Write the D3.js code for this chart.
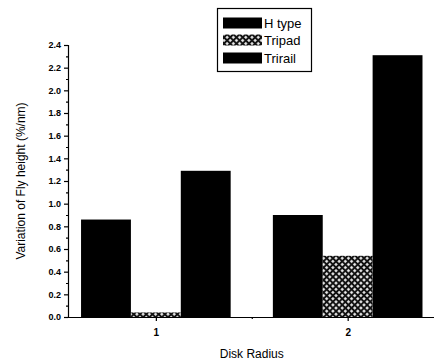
<!DOCTYPE html>
<html>
<head>
<meta charset="utf-8">
<script src="https://cdn.jsdelivr.net/npm/d3@7"></script>
<style>
  body { margin: 0; background: #fff; }
  text { font-family: Arial, "Liberation Sans", sans-serif; fill: #000; }
</style>
</head>
<body>
<div id="chart"></div>
<script>
// values
const radii = [1, 2];
const series = ['H type', 'Tripad', 'Trirail'];
const hType = [0.86, 0.90];
const tripad = [0.04, 0.54];
const trirail = [1.29, 2.31];
const yTicks = [0, 0.2, 0.4, 0.6, 0.8, 1.0, 1.2, 1.4, 1.6, 1.8, 2.0, 2.2, 2.4];

const width = 434, height = 363;
const margin = {left: 68, right: 0, top: 45, bottom: 46};

const svg = d3.select('#chart').append('svg').attr('width', width).attr('height', height);

const defs = svg.append('defs');
const pat = defs.append('pattern')
    .attr('id', 'hatch')
    .attr('patternUnits', 'userSpaceOnUse')
    .attr('width', 4.4).attr('height', 4.4)
    .attr('patternTransform', 'rotate(45)');
pat.append('rect').attr('width', 4.4).attr('height', 4.4).attr('fill', '#111');
pat.append('rect').attr('x', 1).attr('y', 1).attr('width', 2.4).attr('height', 2.4).attr('fill', '#f4f4f4');

const x = d3.scaleLinear().domain([0.542, 2.45]).range([margin.left, width - margin.right]);
const y = d3.scaleLinear().domain([0, 2.4]).range([height - margin.bottom, margin.top]);

const barW = x(1.26) - x(1);
const fills = ['#000', 'url(#hatch)', '#000'];
const data = [hType, tripad, trirail];

const bars = svg.append('g');
data.forEach((vals, s) => {
    bars.selectAll('rect.s' + s)
        .data(vals)
        .enter().append('rect')
        .attr('class', 's' + s)
        .attr('x', (d, i) => x(radii[i]) + (s - 1.5) * barW)
        .attr('y', d => y(d))
        .attr('width', barW)
        .attr('height', d => y(0) - y(d))
        .attr('fill', fills[s]);
});

// y axis with minor ticks
const yAxis = svg.append('g').attr('transform', 'translate(' + margin.left + ',0)');
yAxis.call(d3.axisLeft(y).tickValues(yTicks).tickSize(4).tickPadding(3).tickFormat(d3.format('.1f')));
yAxis.append('g').call(d3.axisLeft(y).tickValues(d3.range(0.1, 2.4, 0.2)).tickSize(2).tickFormat(''))
    .select('.domain').remove();
yAxis.selectAll('text').style('font-size', '9px').style('font-weight', 'bold');

// x axis
const xAxis = svg.append('g').attr('transform', 'translate(0,' + y(0) + ')');
xAxis.call(d3.axisBottom(x).tickValues(radii).tickSize(4).tickPadding(8).tickFormat(d3.format('d')).tickSizeOuter(0));
xAxis.append('g').call(d3.axisBottom(x).tickValues([1.5]).tickSize(2).tickFormat(''))
    .select('.domain').remove();
xAxis.selectAll('text').style('font-size', '10px').style('font-weight', 'bold');
svg.selectAll('.domain, .tick line').attr('stroke', '#000').attr('stroke-width', 1.2);

svg.append('text')
    .attr('x', (x(1) + x(2)) / 2).attr('y', 358)
    .attr('text-anchor', 'middle')
    .style('font-size', '12px')
    .text('Disk Radius');

svg.append('text')
    .attr('transform', 'translate(25,' + ((margin.top + y(0)) / 2) + ') rotate(-90)')
    .attr('text-anchor', 'middle')
    .style('font-size', '12px')
    .text('Variation of Fly height (%/nm)');

// legend
const legend = svg.append('g');
legend.append('rect')
    .attr('x', 217.5).attr('y', 8.5).attr('width', 94).attr('height', 63)
    .attr('fill', '#fff').attr('stroke', '#000').attr('stroke-width', 1.2);
const rowY = [23, 40, 58];
series.forEach((name, s) => {
    legend.append('rect')
        .attr('x', 223).attr('y', rowY[s] - 5.5).attr('width', 39).attr('height', 11)
        .attr('fill', fills[s]);
    legend.append('text')
        .attr('x', 264).attr('y', rowY[s] + 5)
        .style('font-size', '13px')
        .text(name);
});
</script>
</body>
</html>
